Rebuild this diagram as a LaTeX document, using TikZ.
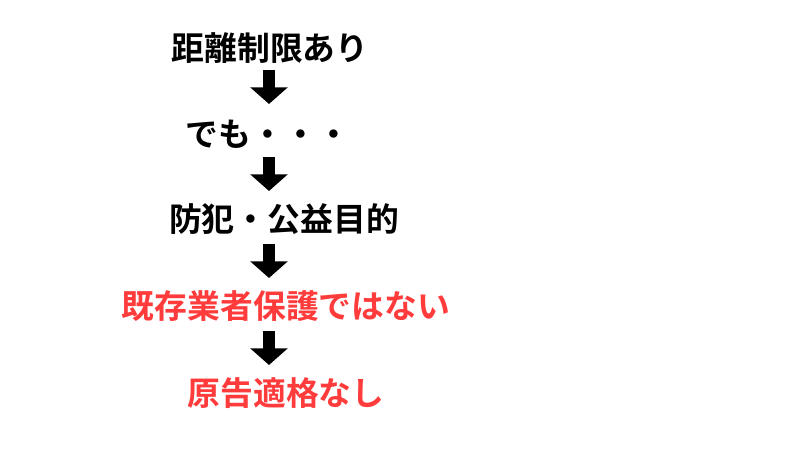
\documentclass[tikz,border=0pt]{standalone}
\usepackage{fontspec}
\newfontfamily\jp{Noto Sans CJK JP Bold}
\usetikzlibrary{arrows.meta}
\definecolor{redtxt}{HTML}{FF3B3B}
\begin{document}
\begin{tikzpicture}[x=0.03cm,y=-0.03cm,
  lbl/.style={font=\jp\fontsize{28}{31}\selectfont, inner sep=0pt},
  blk/.style={line width=0.36cm, -{Triangle[width=1.1cm,length=0.5cm]}}]
\useasboundingbox (0,0) rectangle (800,450);
\node[lbl] (t1) at (270,48) {距離制限あり};
\node[lbl] (t2) at (268,134) {でも・・・};
\node[lbl] (t3) at (284,219) {防犯・公益目的};
\node[lbl,text=redtxt] (t4) at (286,306) {既存業者保護ではない};
\node[lbl,text=redtxt] (t5) at (286,393) {原告適格なし};
\coordinate (a1) at (269,70); \coordinate (b1) at (269,104);
\coordinate (a2) at (269,157); \coordinate (b2) at (269,191);
\coordinate (a3) at (269,244); \coordinate (b3) at (269,278);
\coordinate (a4) at (269,331); \coordinate (b4) at (269,365);
\draw[blk] (a1) -- (b1);
\draw[blk] (a2) -- (b2);
\draw[blk] (a3) -- (b3);
\draw[blk] (a4) -- (b4);
\end{tikzpicture}
\end{document}
